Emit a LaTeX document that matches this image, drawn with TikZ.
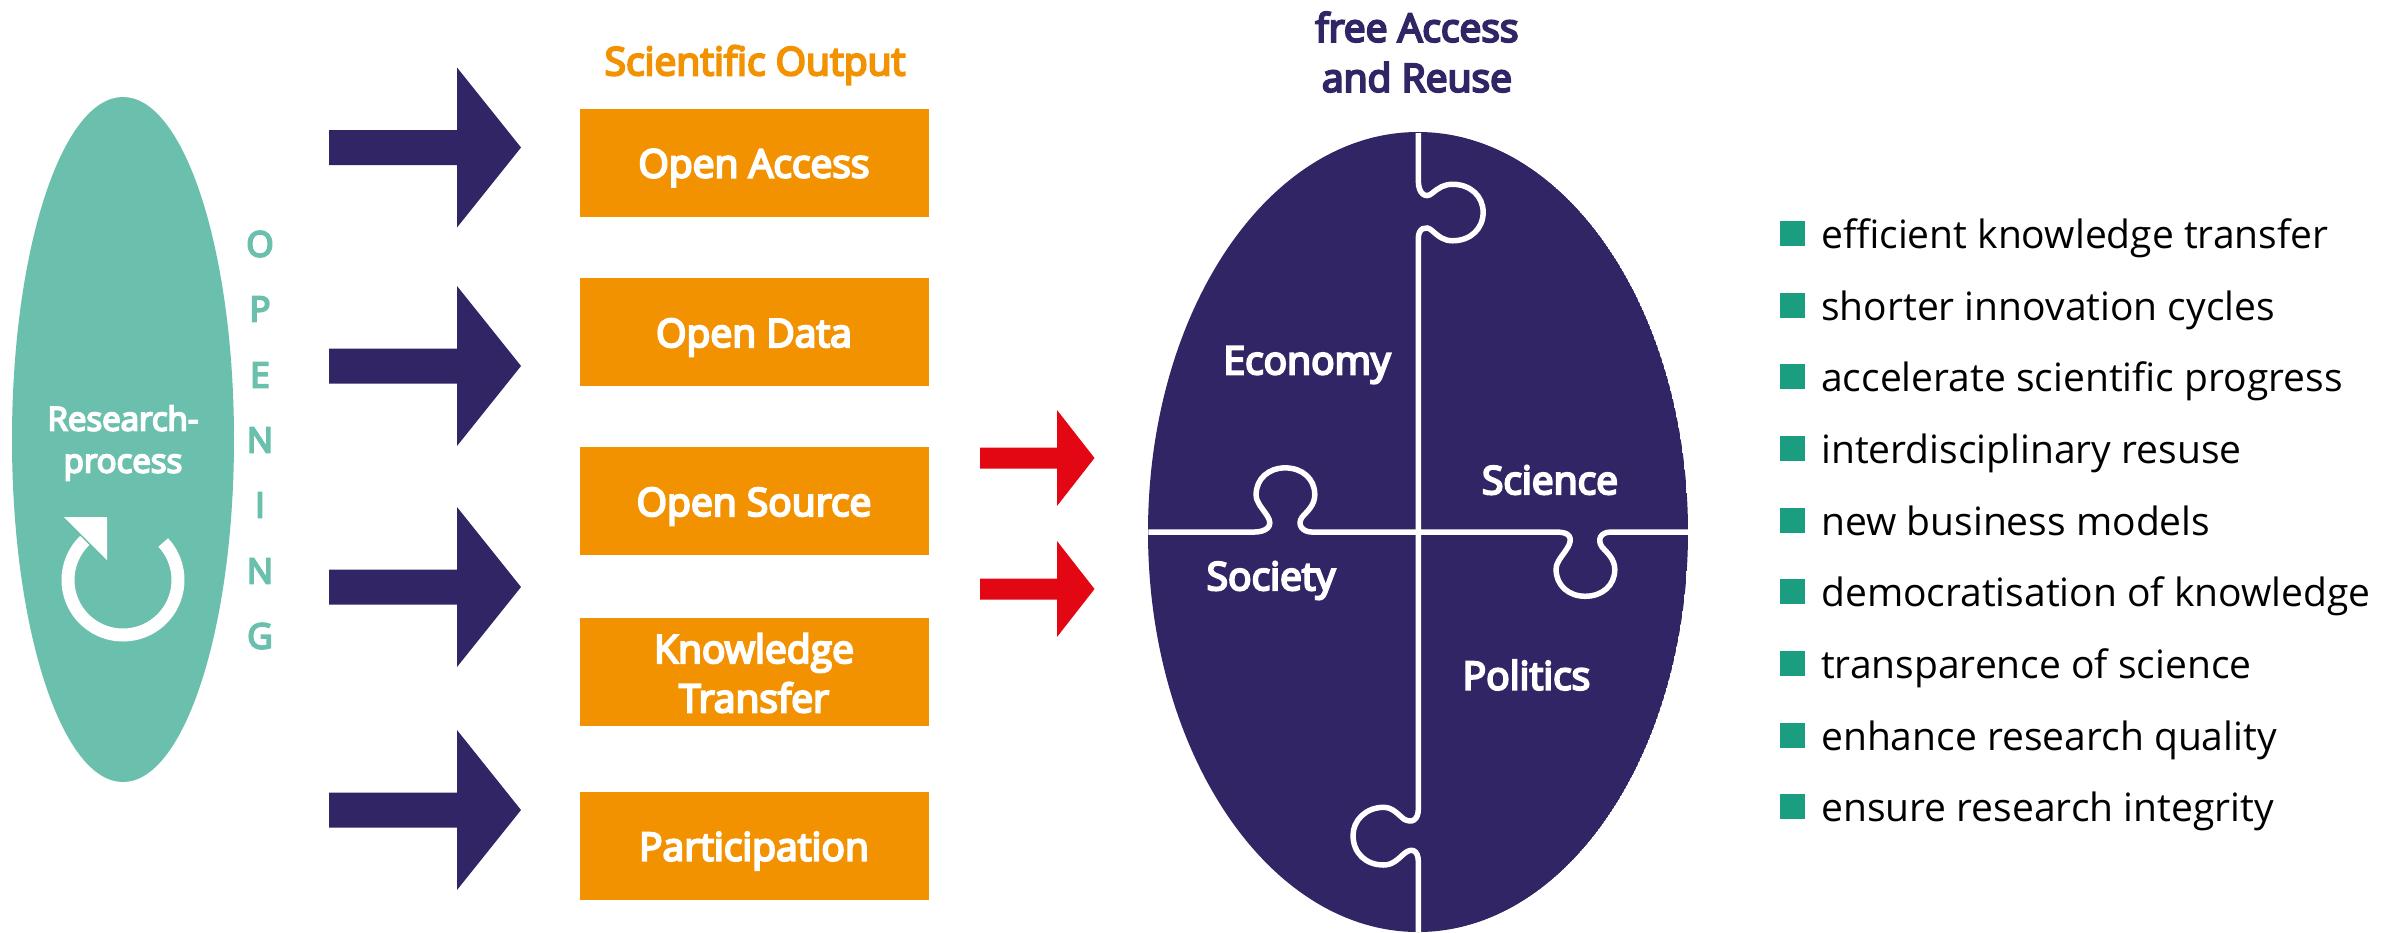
\documentclass[tikz,border=0pt]{standalone}
\usepackage{fontspec}
\setmainfont{Open Sans}
\newfontfamily\semi[FakeBold=5.5]{Open Sans}
\usetikzlibrary{shapes.geometric}
\definecolor{teal1}{HTML}{6BBFAD}
\definecolor{navy1}{HTML}{312565}
\definecolor{orange1}{HTML}{F39200}
\definecolor{red1}{HTML}{E30613}
\definecolor{green1}{HTML}{1A9E7F}
\newcommand{\fs}[1]{\fontsize{#1}{#1}\selectfont}
\tikzset{
  outbox/.style={fill=orange1,inner sep=0pt,minimum width=349pt,minimum height=108pt},
  boxtext/.style={text=white,inner sep=0pt,align=center,font=\fs{39}\semi,yshift=-5.5pt},
  piece/.style={text=white,inner sep=0pt,font=\fs{39}\semi},
  letter/.style={text=teal1,inner sep=0pt,font=\fs{35}\semi},
  bullet/.style={fill=green1,inner sep=0pt,minimum width=25pt,minimum height=25pt,anchor=north west},
  item/.style={text=black,inner sep=0pt,anchor=base west,font=\fs{39}},
  headline/.style={inner sep=0pt,align=center,font=\fs{39}\semi}
}
\begin{document}
\begin{tikzpicture}[x=1pt,y=-1pt]
\path[use as bounding box,fill=white] (0,0) rectangle (2402,932);
% research ellipse
\node[ellipse,fill=teal1,inner sep=0pt,minimum width=222pt,minimum height=685pt] (proc) at (123,439.5) {};
\node[piece,align=center,font=\fs{33}\semi] (proctext) at (123,443) {Research-\\[9pt]process};
\draw[white,line width=13pt] plot[domain=43:-226,samples=80] ({123+55*cos(\x)},{580-55*sin(\x)});
\fill[white] (64,517) -- (107,517) -- (107,560) -- cycle;
% OPENING
\foreach \c/\y/\n in {O/244/a,P/309/b,E/375/c,N/440/d,I/505/e,N/571/f,G/636/g}
  \node[letter] (op\n) at (260,\y) {\c};
% navy arrows
\foreach \y in {147.5,366,587,810}
  \fill[navy1] (329,\y-17.5) -- (457,\y-17.5) -- (457,\y-80) -- (521,\y) -- (457,\y+80) -- (457,\y+17.5) -- (329,\y+17.5) -- cycle;
% boxes
\node[headline,text=orange1] (head) at (755,65) {Scientific Output};
\node[outbox] (b1) at (754,162.5) {};
\node[outbox] (b2) at (754,332) {};
\node[outbox] (b3) at (754,501) {};
\node[outbox] (b4) at (754,671.5) {};
\node[outbox] (b5) at (754,845.5) {};
\node[boxtext] (t1b) at (b1) {Open Access};
\node[boxtext] (t2b) at (b2) {Open Data};
\node[boxtext] (t3b) at (b3) {Open Source};
\node[boxtext,yshift=4pt] (t4b) at (b4) {Knowledge\\[9pt]Transfer};
\node[boxtext] (t5b) at (b5) {Participation};
% red arrows
\foreach \y in {458,589}
  \fill[red1] (980,\y-10.5) -- (1057,\y-10.5) -- (1057,\y-48) -- (1094.5,\y) -- (1057,\y+48) -- (1057,\y+10.5) -- (980,\y+10.5) -- cycle;
% egg
\node[headline,text=navy1] (free) at (1417,52) {free Access\\[11pt]and Reuse};
\begin{scope}
\clip (1418,532) ellipse [x radius=270pt,y radius=400pt];
\fill[navy1] (1418,532) ellipse [x radius=270pt,y radius=400pt];
\begin{scope}[shift={(950,0)},xscale=0.5102,yscale=0.5945]
\draw[white,line width=5.5pt] (918,224) -- (918,305) .. controls (918,325) and (932,335) .. (945,325) .. controls (958,316) and (968,310) .. (985,310) .. controls (1020,310) and (1045,330) .. (1045,357) .. controls (1045,385) and (1020,405) .. (985,405) .. controls (968,405) and (958,398) .. (945,388) .. controls (932,378) and (918,385) .. (918,400) -- (918,1360) .. controls (918,1380) and (905,1385) .. (890,1378) .. controls (878,1370) and (868,1358) .. (850,1358) .. controls (815,1358) and (790,1380) .. (790,1405) .. controls (790,1435) and (815,1455) .. (850,1455) .. controls (868,1455) and (878,1445) .. (890,1436) .. controls (905,1425) and (918,1430) .. (918,1450) -- (918,1568);
\draw[white,line width=5.5pt] (389,895) -- (595,895) .. controls (620,895) and (635,885) .. (622,868) .. controls (610,852) and (600,845) .. (600,832) .. controls (600,805) and (625,787) .. (657,787) .. controls (690,787) and (715,805) .. (715,832) .. controls (715,850) and (700,860) .. (690,870) .. controls (680,882) and (690,895) .. (710,895) -- (1190,895) .. controls (1215,895) and (1222,905) .. (1210,922) .. controls (1198,938) and (1188,945) .. (1188,958) .. controls (1188,985) and (1213,1003) .. (1245,1003) .. controls (1278,1003) and (1303,985) .. (1303,958) .. controls (1303,940) and (1288,930) .. (1278,920) .. controls (1268,908) and (1275,895) .. (1295,895) -- (1446,895);
\end{scope}
\end{scope}
\node[piece] (eco) at (1307,365) {Economy};
\node[piece] (sci) at (1550,480) {Science};
\node[piece] (soc) at (1271,580.5) {Society};
\node[piece] (pol) at (1526.5,675) {Politics};
% list
\foreach \y/\t/\n in {221/efficient knowledge transfer/1,293/shorter innovation cycles/2,364/accelerate scientific progress/3,436/interdisciplinary resuse/4,508/new business models/5,579/democratisation of knowledge/6,651/transparence of science/7,723/enhance research quality/8,794/ensure research integrity/9}{
  \node[bullet] (s\n) at (1780,\y) {};
  \node[item] (t\n) at (1821,\y+27.5) {\t};
}
\end{tikzpicture}
\end{document}
